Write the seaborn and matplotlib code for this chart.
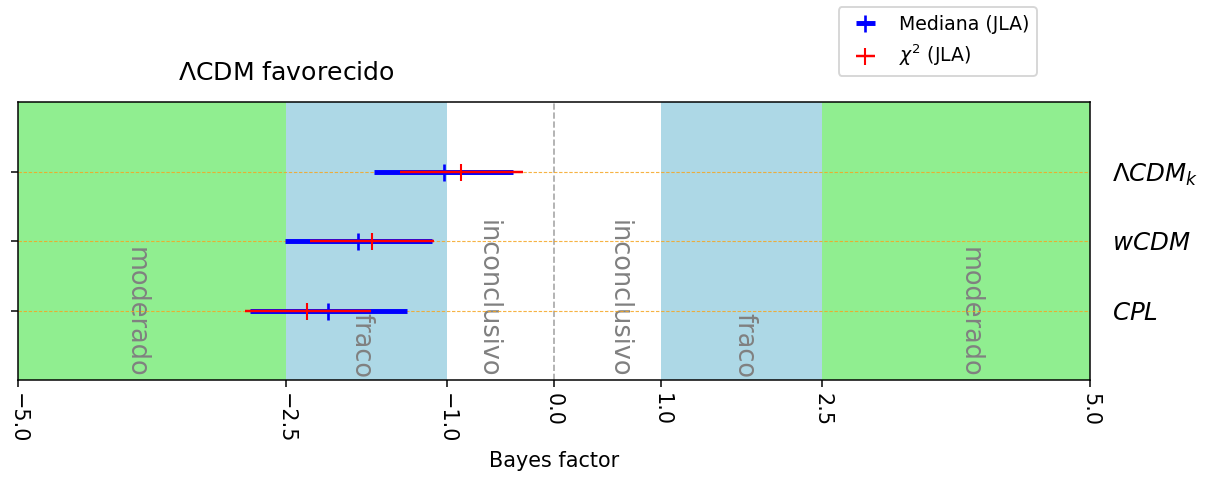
import matplotlib
matplotlib.use("Agg")
import matplotlib.pyplot as plt
import seaborn as sns
import numpy as np

# Models (bottom to top) and their y positions
models = ["$CPL$", "$wCDM$", r"$\Lambda CDM_k$"]
rows = [1, 2, 3]

# Median estimate with its interval (JLA)
median_val = [-2.11, -1.83, -1.03]
median_lo = [-2.84, -2.51, -1.68]
median_hi = [-1.37, -1.14, -0.38]

# Chi-square estimate with its interval (JLA)
chi2_val = [-2.30, -1.70, -0.865]
chi2_lo = [-2.88, -2.28, -1.44]
chi2_hi = [-1.71, -1.12, -0.29]

# Evidence bands on the Bayes-factor scale
band_edges = [-5.0, -2.5, -1.0, 1.0, 2.5, 5.0]
band_colors = ["lightgreen", "lightblue", "white", "lightblue", "lightgreen"]
band_labels = ["moderado", "fraco", "inconclusivo", "inconclusivo", "fraco", "moderado"]
band_label_x = [-3.9, -1.8, -0.62, 0.6, 1.78, 3.88]

xticks = [-5.0, -2.5, -1.0, 0.0, 1.0, 2.5, 5.0]

sns.set_style("ticks")
plt.rcParams["font.family"] = ["DejaVu Sans"]
plt.rcParams["axes.edgecolor"] = "black"
plt.rcParams["xtick.color"] = "black"
plt.rcParams["ytick.color"] = "black"
plt.rcParams["text.color"] = "black"
plt.rcParams["axes.labelcolor"] = "black"

fig = plt.figure(figsize=(1212 / 136, 479 / 136), dpi=136)
ax = fig.add_axes([18 / 1212, 1 - 380 / 479, (1090 - 18) / 1212, (380 - 102) / 479])

for (x0, x1), c in zip(zip(band_edges[:-1], band_edges[1:]), band_colors):
    ax.axvspan(x0, x1, color=c, lw=0, zorder=0)

for x, lab in zip(band_label_x, band_labels):
    ax.text(x, 0.03, lab, rotation=-90, ha="center", va="bottom",
            fontsize=13.6, color="gray", zorder=1)

ax.axvline(0, color="darkgray", ls="--", lw=0.9, zorder=1)
for y in rows:
    ax.axhline(y, color="#f5a623", ls="--", lw=0.6, alpha=0.85, zorder=2,
               dashes=(3, 1.5))

med = np.array(median_val)
chi = np.array(chi2_val)
ax.errorbar(med, rows,
            xerr=[med - np.array(median_lo), np.array(median_hi) - med],
            fmt="|", color="blue", ms=9, mew=1.4, elinewidth=2.6,
            label="Mediana (JLA)", zorder=3)
ax.errorbar(chi, rows,
            xerr=[chi - np.array(chi2_lo), np.array(chi2_hi) - chi],
            fmt="|", color="red", ms=9, mew=1.1, elinewidth=1.3,
            label=r"$\chi^2$ (JLA)", zorder=4)

ax.set_xlim(-5, 5)
ax.set_ylim(0, 4)
ax.set_xticks(xticks)
ax.set_xticklabels([f"{t:.1f}".replace("-", "\u2212") for t in xticks],
                   rotation=-90, fontsize=11)
ax.set_yticks(rows)
ax.set_yticklabels(models, fontsize=13)
ax.tick_params(axis="y", left=True, right=False, labelleft=False, labelright=True, pad=8)
ax.set_xlabel("Bayes factor", fontsize=11)

ax.text(-2.5, 4.42, r"$\Lambda$CDM favorecido", ha="center", va="center", fontsize=13.3)

ax.legend(loc="upper right", bbox_to_anchor=(1037 / 1212, 1 - 7 / 479),
          bbox_transform=fig.transFigure, borderaxespad=0)

fig.savefig("out.png", dpi=136)
